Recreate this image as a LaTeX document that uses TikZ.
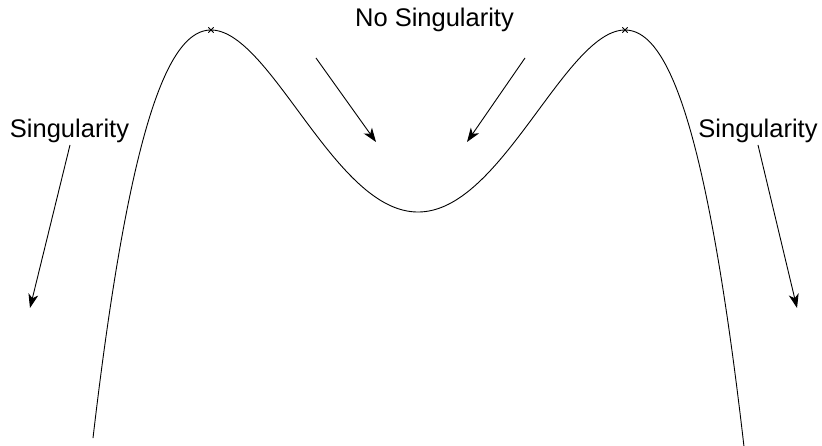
\documentclass[tikz,border=0pt]{standalone}
\usepackage{fontspec}
\setmainfont{Liberation Sans}
\usetikzlibrary{arrows.meta,shapes.misc}
\tikzset{
  lbl/.style={anchor=base, inner sep=0pt, font=\fontsize{25.5}{30}\selectfont},
  arr/.style={-{Stealth[length=14pt,width=10pt,inset=4pt]}, line width=0.9pt},
  curve/.style={line width=0.9pt},
  peak/.style={cross out, draw, minimum size=4.5pt, inner sep=0pt, line width=0.8pt}
}
\begin{document}
\begin{tikzpicture}[x=1pt,y=-1pt]
\useasboundingbox (0,0) rectangle (822,446);
% curve
\draw[curve] plot[domain=93:745, samples=300, smooth]
  (\x, {212 - 84.18*((\x-418)/100)^2 + 9.555*((\x-418)/100)^4 + 0.04173*((\x-418)/100)^6});
% peak markers
\node[peak] (pl) at (211,30) {};
\node[peak] (pr) at (625,30) {};
% labels
\node[lbl] (ns) at (434.5,27) {No Singularity};
\node[lbl] (sl) at (69.5,138) {Singularity};
\node[lbl] (sr) at (758,138) {Singularity};
% arrow endpoints
\coordinate (a1s) at (316,58);  \coordinate (a1e) at (376,142);
\coordinate (a2s) at (525,58);  \coordinate (a2e) at (467,142);
\coordinate (a3s) at (70,145);  \coordinate (a3e) at (30,308);
\coordinate (a4s) at (758,145); \coordinate (a4e) at (797,308);
\draw[arr] (a1s) -- (a1e);
\draw[arr] (a2s) -- (a2e);
\draw[arr] (a3s) -- (a3e);
\draw[arr] (a4s) -- (a4e);
\end{tikzpicture}
\end{document}
